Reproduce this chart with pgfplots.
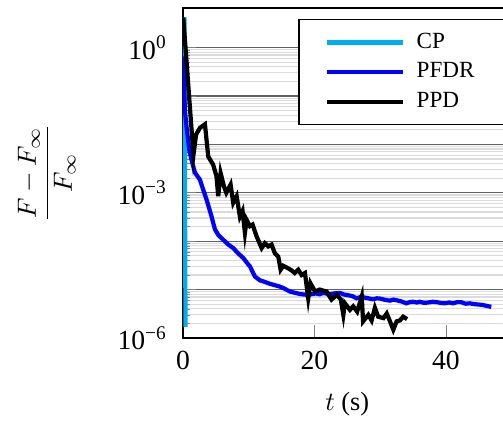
\documentclass[border=0pt]{standalone}
\usepackage{amsmath}
\usepackage{fontspec}
\setmainfont{Liberation Serif}
\usepackage{pgfplots}
\pgfplotsset{compat=1.18}
\definecolor{cpcyan}{RGB}{0,174,239}

\begin{document}
\begin{tikzpicture}
\begin{axis}[
  scale only axis,
  width=124.9pt, height=125.4pt,
  ymode=log,
  xmin=0, xmax=50,
  ymin=1e-6, ymax=6.6,
  xtick={0,20,40},
  xticklabels={0,20,40},
  xtick pos=bottom,
  ytick pos=left,
  ytick={1e-6,1e-5,1e-4,1e-3,1e-2,1e-1,1},
  yticklabels={10\textsuperscript{−6},,,10\textsuperscript{−3},,,10\textsuperscript{0}},
  /pgf/number format/assume math mode=true,
  ticklabel style={font=\fontsize{10.5}{12}\selectfont},
  xticklabel style={yshift=-1.5pt},
  yticklabel style={xshift=-2.5pt},
  ymajorgrids, yminorgrids,
  major grid style={black!62, line width=0.45pt},
  minor grid style={black!14, line width=0.45pt},
  axis line style={line width=0.8pt},
  major tick length=5pt,
  xlabel={$t$ (s)},
  ylabel={$\dfrac{F-F_\infty}{F_\infty}$},
  xlabel style={at={(axis description cs:0.5,-0.2)}, anchor=center},
  ylabel style={at={(axis description cs:-0.414,0.5)}, anchor=center},
  legend style={at={(0.985,0.966)}, anchor=north east, inner xsep=10pt,
    inner ysep=3pt, font=\fontsize{8.8}{10}\selectfont, row sep=0pt,
    column sep=2.4pt, cells={anchor=west}},
  legend image code/.code={\draw[#1] (0pt,0pt) -- (28.7pt,0pt);},
  every axis plot/.append style={line width=1.6pt},
]
\addplot[cpcyan] coordinates {
  (0.25,4.2) (0.28,0.3) (0.3,1e-2) (0.33,3e-4) (0.37,1e-5) (0.4,1.7e-6)
};
\addlegendentry{CP}
\addplot[blue] coordinates {
  (0,0.66) (0.3,0.05) (0.6,0.02) (1.0,7e-3) (1.5,3.8e-3) (1.83,2.6e-3)
  (2.59,1.86e-3) (3.09,1.15e-3) (3.6,7.2e-4) (4.36,3.2e-4) (4.87,1.75e-4)
  (5.37,1.35e-4) (6.13,1.07e-4) (6.9,8.5e-5) (7.65,7.2e-5) (8.4,5.6e-5)
  (9.17,4.5e-5) (9.94,3.3e-5) (10.2,3.0e-5) (10.95,1.86e-5) (11.7,1.55e-5)
  (12.2,1.48e-5) (13.2,1.32e-5) (14.75,1.15e-5) (15.3,1.07e-5) (16.27,9.1e-6)
  (17.0,8.6e-6) (17.8,8.1e-6) (18.8,7.8e-6) (19.5,8.0e-6) (20.2,8.3e-6)
  (20.8,8.0e-6) (21.3,8.5e-6) (22.0,8.2e-6) (22.5,8.1e-6) (23.2,8.4e-6)
  (23.9,8.5e-6) (24.5,7.9e-6) (25.2,7.6e-6) (25.8,7.3e-6) (26.4,6.6e-6)
  (27.0,7.0e-6) (27.5,6.9e-6) (28.2,6.6e-6) (28.9,6.3e-6) (29.5,6.6e-6)
  (30,6.5e-6) (30.8,6.1e-6) (31.5,5.9e-6) (32.0,6.2e-6) (32.5,6.0e-6)
  (33.2,5.7e-6) (34.0,5.2e-6) (34.5,5.5e-6) (35,5.6e-6) (35.6,5.4e-6)
  (36.0,5.6e-6) (36.7,5.3e-6) (37.3,5.4e-6) (38.0,5.6e-6) (38.6,5.5e-6)
  (39.2,5.3e-6) (39.8,5.2e-6) (40.5,5.4e-6) (41.1,5.2e-6) (41.7,5.5e-6)
  (42.3,5.5e-6) (43.0,5.1e-6) (43.65,5.2e-6) (44.3,5.0e-6) (45,4.9e-6)
  (45.6,4.8e-6) (46.2,4.6e-6) (46.9,4.4e-6)
};
\addlegendentry{PFDR}
\addplot[black] coordinates {
  (0.05,4.2) (1.6,6.0e-3) (2.0,1.6e-2) (2.6,2.2e-2) (3.35,2.6e-2)
  (3.85,5.6e-3) (4.6,3.8e-3) (5.1,2.2e-3) (5.37,8.5e-4) (5.73,2.57e-3)
  (6.24,1.35e-3) (6.6,1.0e-3) (7.25,1.48e-3) (7.65,6.2e-4) (8.17,8.5e-4)
  (8.67,3.2e-4) (9.07,4.2e-4) (9.43,1.48e-4) (9.69,2.75e-4) (10.19,2.04e-4)
  (10.6,2.2e-4) (11.2,1.26e-4) (11.97,7.2e-5) (12.47,9.1e-5) (12.97,7.8e-5)
  (13.48,8.5e-5) (13.99,5.6e-5) (14.5,4.8e-5) (14.86,2.57e-5) (15.26,3.1e-5)
  (16.0,2.75e-5) (16.5,2.5e-5) (17.0,2.2e-5) (17.54,2.57e-5) (18.05,2.0e-5)
  (18.56,2.2e-5) (19.06,6.6e-6) (19.4,1.35e-5) (20.1,9.1e-6) (20.8,1.0e-5)
  (21.85,9.1e-6) (22.6,6.2e-6) (23.4,7.8e-6) (24.0,6.3e-6) (24.4,3.0e-6)
  (24.64,5.2e-6) (25.4,3.8e-6) (25.9,4.5e-6) (26.5,3.5e-6) (27.2,7.2e-6)
  (27.4,2.2e-6) (28.2,3.0e-6) (28.7,2.3e-6) (29.2,4.2e-6) (29.7,2.75e-6)
  (30.5,2.57e-6) (31.0,3.2e-6) (31.5,2.2e-6) (32.0,1.48e-6) (32.5,2.2e-6)
  (33.0,2.3e-6) (33.5,2.75e-6) (34.1,2.45e-6)
};
\addlegendentry{PPD}
\coordinate (O) at (rel axis cs:0,0);
\end{axis}
\pgfresetboundingbox
\path[use as bounding box] (O) ++(-69.5pt,-31.9pt) rectangle ++(191.1pt,160.3pt);
\end{tikzpicture}
\end{document}
